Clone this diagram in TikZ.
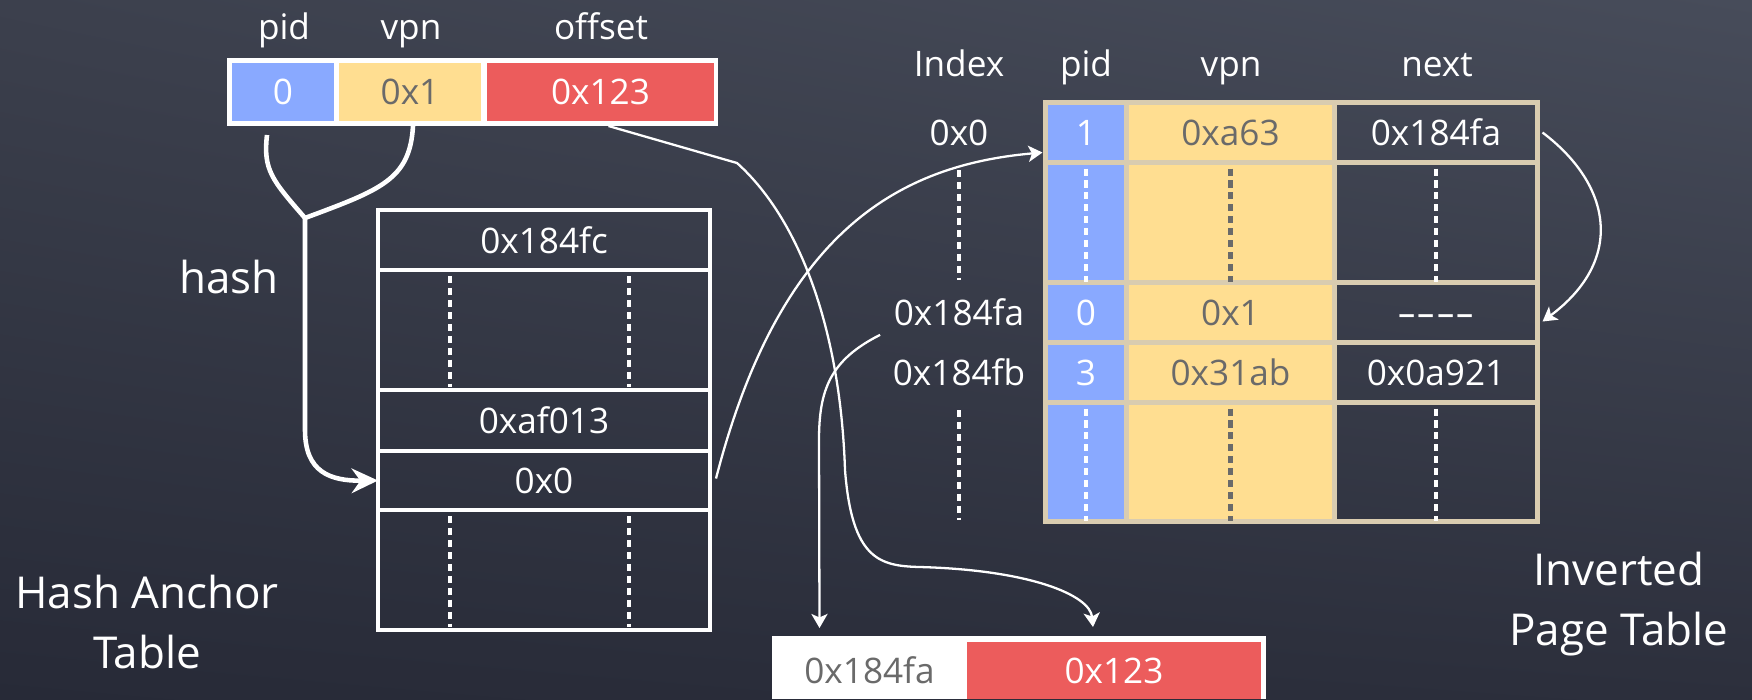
\documentclass[tikz,border=0pt]{standalone}
\usepackage{fontspec}
\setmainfont{Open Sans}
\usetikzlibrary{arrows.meta,calc,shadings}
\definecolor{bgUL}{HTML}{3C404D}
\definecolor{bgUR}{HTML}{474C5A}
\definecolor{bgLL}{HTML}{272A37}
\definecolor{bgLR}{HTML}{2C2F3C}
\definecolor{pidblue}{HTML}{89A9FF}
\definecolor{vpnyel}{HTML}{FFDE91}
\definecolor{offred}{HTML}{EC5C5C}
\definecolor{tanline}{HTML}{D9CCB0}
\definecolor{greytxt}{HTML}{6A6A6A}
\begin{document}
\begin{tikzpicture}[x=0.01cm, y=-0.01cm,
  cell/.style 2 args={minimum width=#1*0.01cm, minimum height=#2*0.01cm,
    inner sep=0pt, outer sep=0pt},
  txt/.style={text=white, font=\fontsize{10}{12}\selectfont, inner sep=0pt},
  dark/.style={text=greytxt},
  big/.style={text=white, font=\fontsize{12.5}{15}\selectfont, inner sep=0pt},
  hat/.style={draw=white, line width=1.3pt},
  ipt/.style={draw=tanline, line width=1.42pt},
  dots/.style={line width=1.3pt, dash pattern=on 2pt off 1.4pt},
  wire/.style={draw=white, line width=0.65pt, -{Stealth[length=4pt,width=4.6pt,inset=1pt]}},
  bigtip/.style={-{Stealth[length=7.5pt,width=7pt,inset=2.5pt]}}]

% chalkboard
\useasboundingbox (0,0) rectangle (1752,699);
\clip (0,0) rectangle (1752,699);
\shade[upper left=bgUL, upper right=bgUR, lower left=bgLL, lower right=bgLR]
  (0,0) rectangle (1752,699);

% virtual address: pid | vpn | offset
\node[txt, anchor=base] (lpid) at (284,39) {pid};
\node[txt, anchor=base] (lvpn) at (411,39) {vpn};
\node[txt, anchor=base] (loff) at (601,39) {offset};
\node[cell={491}{68}, fill=white] (va) at (472.5,92) {};
\node[cell={102}{58}, fill=pidblue, txt] (vpid) at (283,92) {0};
\node[cell={142}{58}, fill=vpnyel, txt, dark] (vvpn) at (410,92) {0x1};
\node[cell={227}{58}, fill=offred, txt] (voff) at (600.5,92) {0x123};

% hash anchor table
\node[cell={332}{60}, hat, txt] (h1) at (544,240) {0x184fc};
\node[cell={332}{120}, hat] (h2) at (544,330) {};
\node[cell={332}{61}, hat, txt] (h3) at (544,420.5) {0xaf013};
\node[cell={332}{59}, hat, txt] (h4) at (544,480.5) {0x0};
\node[cell={332}{120}, hat] (h5) at (544,570) {};
\foreach \r in {h2,h5}{
  \draw[dots, white] ($(\r.north)+(-94,6)$) -- ($(\r.south)+(-94,-3)$);
  \draw[dots, white] ($(\r.north)+(85,6)$) -- ($(\r.south)+(85,-3)$);
}
\node[big, anchor=base] (lhash) at (229,293) {hash};
\node[big, anchor=base] (hat1) at (147,608) {Hash Anchor};
\node[big, anchor=base] (hat2) at (147,668) {Table};

% inverted page table
\node[txt, anchor=base] (tidx) at (959,76) {Index};
\node[txt, anchor=base] (tpid) at (1086,76) {pid};
\node[txt, anchor=base] (tvpn) at (1231,76) {vpn};
\node[txt, anchor=base] (tnext) at (1437,76) {next};

\node[cell={81}{60}, ipt, fill=pidblue, txt] (p1) at (1086,132.5) {1};
\node[cell={208}{60}, ipt, fill=vpnyel, txt, dark] (v1) at (1230.5,132.5) {0xa63};
\node[cell={203}{60}, ipt, txt] (n1) at (1436,132.5) {0x184fa};
\node[cell={81}{120}, ipt, fill=pidblue] (p2) at (1086,222.5) {};
\node[cell={208}{120}, ipt, fill=vpnyel] (v2) at (1230.5,222.5) {};
\node[cell={203}{120}, ipt] (n2) at (1436,222.5) {};
\node[cell={81}{60}, ipt, fill=pidblue, txt] (p3) at (1086,312.5) {0};
\node[cell={208}{60}, ipt, fill=vpnyel, txt, dark] (v3) at (1230.5,312.5) {0x1};
\node[cell={203}{60}, ipt, txt] (n3) at (1436,312.5)
  {\raisebox{-4pt}[0pt][0pt]{\scalebox{1.7}[1.1]{-{}-{}-{}-}}};
\node[cell={81}{60}, ipt, fill=pidblue, txt] (p4) at (1086,372.5) {3};
\node[cell={208}{60}, ipt, fill=vpnyel, txt, dark] (v4) at (1230.5,372.5) {0x31ab};
\node[cell={203}{60}, ipt, txt] (n4) at (1436,372.5) {0x0a921};
\node[cell={81}{119}, ipt, fill=pidblue] (p5) at (1086,462) {};
\node[cell={208}{119}, ipt, fill=vpnyel] (v5) at (1230.5,462) {};
\node[cell={203}{119}, ipt] (n5) at (1436,462) {};
\foreach \r in {2,5}{
  \draw[dots, white] ($(p\r.north)+(0,6)$) -- ($(p\r.south)+(0,-1)$);
  \draw[dots, greytxt] ($(v\r.north)+(0,6)$) -- ($(v\r.south)+(0,-1)$);
  \draw[dots, white] ($(n\r.north)+(0,6)$) -- ($(n\r.south)+(0,-1)$);
}

% index column
\node[txt] (i1) at (959,132.5) {0x0};
\node[txt] (i3) at (959,312.5) {0x184fa};
\node[txt] (i4) at (959,372.5) {0x184fb};
\draw[dots, white] (959,170) -- (959,280);
\draw[dots, white] (959,410) -- (959,520);

\node[big, anchor=base] (ipt1) at (1619,585) {Inverted};
\node[big, anchor=base] (ipt2) at (1619,645) {Page Table};

% physical address: frame | offset
\node[cell={494}{63}, fill=white] (pa) at (1019,667.5) {};
\node[cell={195}{57}, fill=white, txt, dark] (bw) at (869.5,670.5) {0x184fa};
\node[cell={294}{57}, fill=offred, txt] (bo) at (1114,670.5) {0x123};

% hash of pid and vpn into the anchor table
\coordinate (fork) at (305,218);
\draw[hat] ($(vpid.south)+(-16,14)$) .. controls (263,170) and (272,180) .. (fork);
\draw[hat] ($(vvpn.south)+(3,5)$) .. controls (410,180) and (380,190) .. (fork);
\draw[hat, bigtip] (fork) -- (305,430) .. controls (305,472) and (330,481) .. (h4.west);

% anchor entry points to the chain head
\draw[wire] ($(h4.east)+(6,-2)$) .. controls (780,230) and (900,165) .. ($(p1.south west)+(-3,-10)$);

% chain link to the next entry
\draw[wire] ($(n1.east)+(5,0)$) .. controls (1612,185) and (1625,260) .. ($(n3.east)+(5,9)$);

% offset is copied unchanged
\draw[wire] ($(voff.south)+(8,5)$) -- (737,163)
  .. controls (795,215) and (840,320) .. (845,470)
  .. controls (852,560) and (880,566) .. (920,567)
  .. controls (1030,570) and (1090,595) .. ($(bo.north)+(-21,-15)$);

% matching index becomes the frame number
\draw[wire] ($(i3.south west)+(-13,8)$) .. controls (830,360) and (819,390) .. (819,440)
  -- ($(bw.north)+(-50,-14)$);
\end{tikzpicture}
\end{document}
